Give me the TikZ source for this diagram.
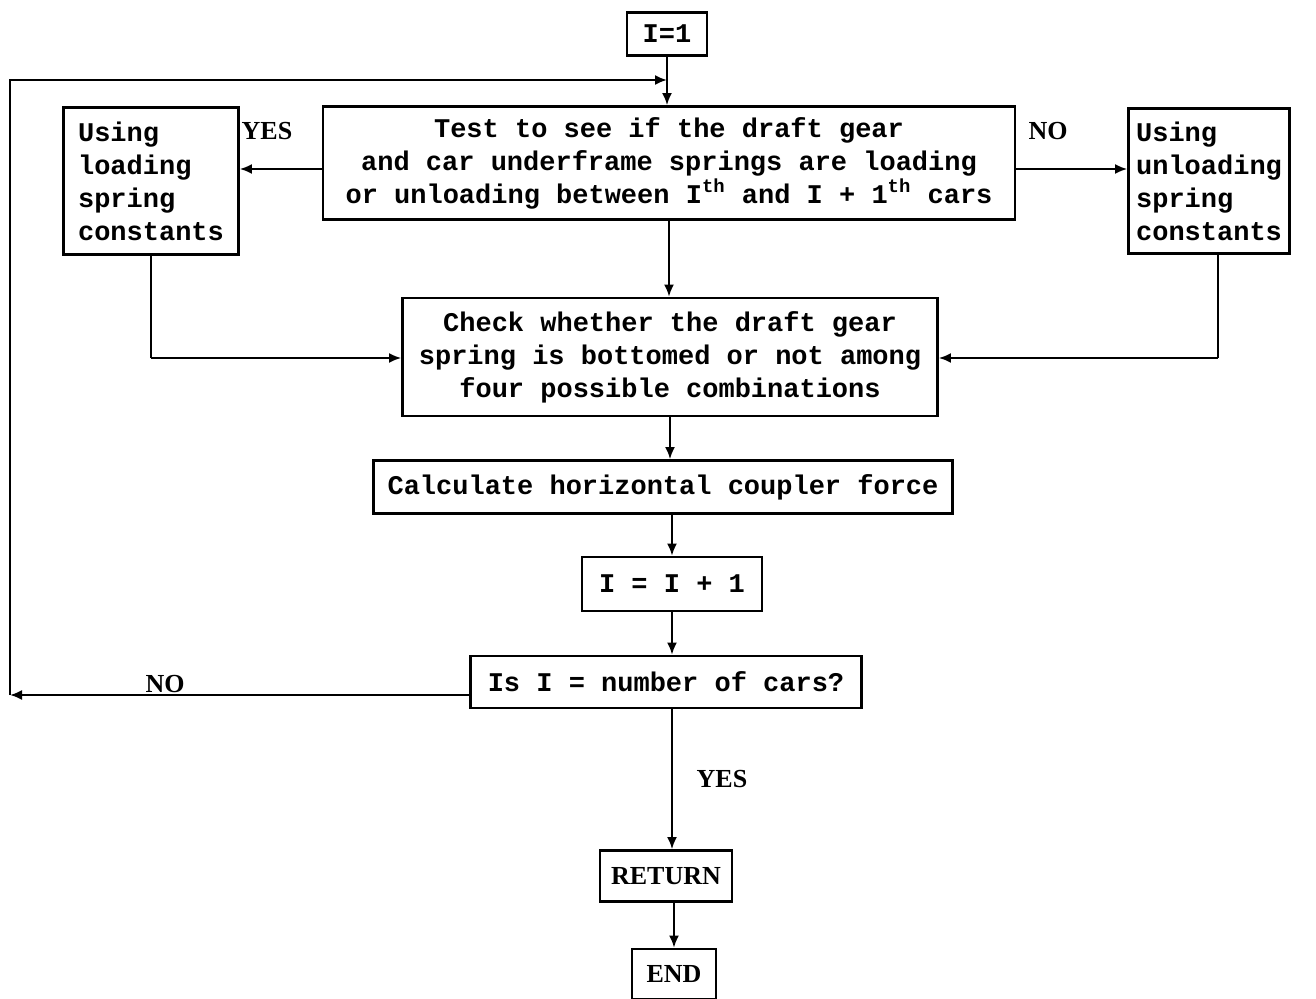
\documentclass[tikz,border=0pt]{standalone}
\usepackage{fontspec}
\setmainfont{Liberation Serif}
\setmonofont{Liberation Mono}
\usepackage{tikz}
\usetikzlibrary{arrows, arrows.meta, positioning, calc}

\tikzset{
  box/.style={draw, line width=1.4pt, font=\ttfamily\bfseries\fontsize{13.5}{16.5}\selectfont,
    inner sep=2pt, align=center},
  flow/.style={line width=1pt, -{Latex[length=6pt, width=5pt]}},
  lbl/.style={font=\bfseries\fontsize{13}{15}\selectfont}
}

\begin{document}
\begin{tikzpicture}[x=0.5pt, y=-0.5pt]
  \useasboundingbox (0,0) rectangle (1316,999);

  % Boxes
  \node[box, minimum width=40pt, minimum height=21.5pt] (init) at (667,34) {I=1};
  \node[box, minimum width=346pt, minimum height=56.5pt] (test) at (669,163)
    {Test to see if the draft gear\\and car underframe springs are loading\\
     or unloading between I\textsuperscript{th} and I + 1\textsuperscript{th} cars};
  \node[box, align=left, minimum width=87.5pt, minimum height=73.5pt] (lsc) at (151,181)
    {Using\\loading\\spring\\constants};
  \node[box, align=left, minimum width=80.5pt, minimum height=72.5pt] (usc) at (1209,181)
    {Using\\unloading\\spring\\constants};
  \node[box, minimum width=267.5pt, minimum height=59pt] (check) at (670,357)
    {Check whether the draft gear\\spring is bottomed or not among\\four possible combinations};
  \node[box, minimum width=289.5pt, minimum height=26.5pt] (calc) at (663,487)
    {Calculate horizontal coupler force};
  \node[box, minimum width=90pt, minimum height=27pt] (incr) at (672,584) {I = I + 1};
  \node[box, minimum width=195.5pt, minimum height=26pt] (last) at (666,682) {Is I = number of cars?};
  \node[box, font=\bfseries\fontsize{13}{15}\selectfont, minimum width=66pt, minimum height=25.5pt] (ret) at (666,876) {RETURN};
  \node[box, font=\bfseries\fontsize{13}{15}\selectfont, minimum width=42pt, minimum height=25pt] (fin) at (674,974) {END};

  % Loop points
  \coordinate (join) at (667,80);
  \coordinate (loopL) at (10,695);
  \coordinate (lsc-d) at (151,358);
  \coordinate (usc-d) at (1218,358);

  % Connectors
  \draw[line width=1pt] (init) -- (join);
  \draw[flow] (join) -- (test.north -| join);
  \draw[flow] (test.west |- 0,169) -- (lsc.east |- 0,169);
  \draw[flow] (test.east |- 0,169) -- (usc.west |- 0,169);
  \draw[flow] (test.south -| 669,0) -- (check.north -| 669,0);
  \draw[line width=1pt] (lsc.south) -- (lsc-d);
  \draw[flow] (lsc-d) -- (check.west |- lsc-d);
  \draw[line width=1pt] (usc.south -| usc-d) -- (usc-d);
  \draw[flow] (usc-d) -- (check.east |- usc-d);
  \draw[flow] (check.south -| 670,0) -- (calc.north -| 670,0);
  \draw[flow] (calc.south -| 672,0) -- (incr.north -| 672,0);
  \draw[flow] (incr.south -| 672,0) -- (last.north -| 672,0);
  \draw[flow] (last.west |- loopL) -- (loopL);
  \draw[flow] (loopL) |- (join);
  \draw[flow] (last.south -| 672,0) -- (ret.north -| 672,0);
  \draw[flow] (ret.south -| 674,0) -- (fin.north -| 674,0);

  % Labels
  \node[lbl] (yes1) at (267,131) {YES};
  \node[lbl] (no1) at (1048,131) {NO};
  \node[lbl] (no2) at (165,684) {NO};
  \node[lbl] (yes2) at (722,779) {YES};
\end{tikzpicture}
\end{document}
